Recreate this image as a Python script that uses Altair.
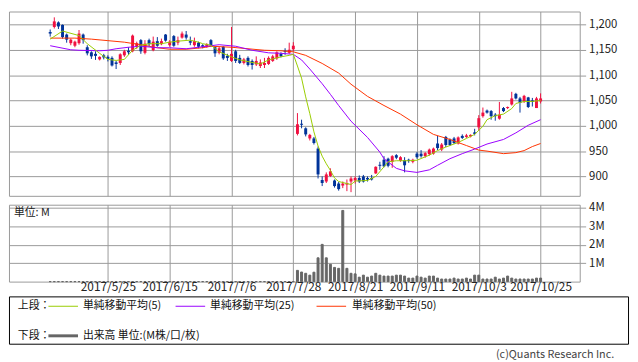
import altair as alt
import pandas as pd

FONT = "Noto Sans CJK JP"

# x-axis ticks (trading-day index -> label)
tick_idx = [14, 29, 44, 59, 74, 89, 104, 119]
tick_labels = ["2017/5/25", "2017/6/15", "2017/7/6", "2017/7/28",
               "2017/8/21", "2017/9/11", "2017/10/3", "2017/10/25"]

# daily candles (index 0 = 2017/5/2 ... 119 = 2017/10/25)
opens = [1185, 1195, 1204, 1199, 1180, 1163, 1158, 1163, 1180, 1155,
         1145, 1142, 1131, 1139, 1136, 1134, 1125, 1124, 1139, 1148,
         1147, 1156, 1169, 1144, 1169, 1149, 1167, 1161, 1180, 1159,
         1177, 1164, 1174, 1180, 1167, 1159, 1164, 1159, 1156, 1169,
         1155, 1144, 1156, 1138, 1128, 1147, 1134, 1124, 1134, 1128,
         1121, 1118, 1120, 1122, 1128, 1133, 1142, 1148, 1144, 1151,
         984, 1004, 995, 975, 975, 955, 893, 890, 901, 892,
         886, 882, 884, 890, 892, 897, 900, 897, 897, 906,
         923, 933, 935, 929, 942, 931, 932, 933, 929, 945,
         945, 940, 944, 945, 965, 953, 978, 973, 975, 965,
         980, 978, 979, 987, 997, 1019, 1030, 1029, 1022, 1014,
         1035, 1035, 1042, 1063, 1054, 1048, 1056, 1050, 1035, 1048]
highs = [1190, 1214, 1206, 1200, 1182, 1172, 1168, 1189, 1182, 1159,
         1147, 1147, 1137, 1142, 1139, 1137, 1128, 1143, 1150, 1155,
         1180, 1166, 1171, 1169, 1172, 1176, 1175, 1172, 1181, 1169,
         1179, 1176, 1186, 1187, 1176, 1174, 1166, 1161, 1163, 1171,
         1156, 1156, 1157, 1142, 1195, 1150, 1140, 1134, 1137, 1131,
         1137, 1131, 1134, 1137, 1140, 1147, 1145, 1153, 1164, 1165,
         1025, 1012, 997, 984, 978, 959, 900, 908, 916, 894,
         889, 890, 894, 900, 900, 902, 903, 900, 903, 920,
         929, 940, 937, 942, 944, 940, 938, 935, 935, 948,
         952, 948, 955, 957, 980, 966, 980, 975, 978, 979,
         983, 984, 983, 994, 1021, 1036, 1032, 1031, 1025, 1047,
         1037, 1038, 1067, 1065, 1057, 1061, 1057, 1055, 1057, 1064]
lows = [1176, 1192, 1191, 1172, 1164, 1159, 1155, 1160, 1162, 1139,
        1132, 1130, 1129, 1131, 1127, 1117, 1112, 1120, 1136, 1140,
        1145, 1152, 1142, 1141, 1157, 1147, 1156, 1159, 1166, 1156,
        1156, 1159, 1172, 1170, 1159, 1156, 1153, 1153, 1154, 1156,
        1136, 1141, 1130, 1128, 1126, 1124, 1122, 1121, 1117, 1111,
        1118, 1114, 1114, 1120, 1126, 1130, 1135, 1140, 1142, 1147,
        981, 995, 979, 971, 963, 896, 881, 887, 899, 878,
        872, 877, 871, 869, 886, 887, 888, 890, 892, 905,
        913, 918, 918, 917, 934, 929, 908, 927, 926, 935,
        937, 937, 941, 943, 952, 950, 958, 960, 964, 963,
        974, 976, 977, 981, 990, 1016, 1024, 1012, 1010, 1012,
        1027, 1033, 1040, 1052, 1026, 1045, 1035, 1038, 1035, 1044]
closes = [1182, 1206, 1196, 1175, 1170, 1170, 1166, 1182, 1169, 1143,
          1137, 1138, 1136, 1135, 1132, 1119, 1122, 1141, 1147, 1145,
          1178, 1163, 1147, 1162, 1161, 1166, 1158, 1167, 1168, 1166,
          1158, 1169, 1182, 1174, 1164, 1167, 1156, 1156, 1161, 1159,
          1143, 1153, 1133, 1134, 1142, 1128, 1124, 1131, 1120, 1120,
          1128, 1125, 1124, 1134, 1137, 1145, 1137, 1146, 1150, 1158,
          1003, 1002, 983, 982, 966, 904, 887, 904, 910, 881,
          875, 886, 887, 896, 897, 890, 890, 894, 894, 919,
          921, 920, 921, 940, 937, 938, 922, 931, 933, 938,
          940, 946, 953, 955, 956, 963, 962, 962, 966, 977,
          976, 981, 982, 984, 1015, 1026, 1026, 1019, 1019, 1022,
          1029, 1037, 1054, 1054, 1045, 1059, 1037, 1047, 1054, 1054]

# volume in millions (no data shown before 2017/7/31)
volume_m = [0.0] * 60 + [
    0.61, 0.52, 0.45, 0.35, 0.51, 1.29, 2.02, 1.29, 0.94, 0.77,
    0.72, 3.86, 0.72, 0.45, 0.42, 0.24, 0.35, 0.24, 0.30, 0.45,
    0.35, 0.30, 0.30, 0.30, 0.35, 0.35, 0.30, 0.19, 0.19, 0.30,
    0.24, 0.19, 0.30, 0.30, 0.19, 0.14, 0.14, 0.14, 0.19, 0.14,
    0.14, 0.19, 0.14, 0.35, 0.35, 0.14, 0.14, 0.14, 0.24, 0.14,
    0.19, 0.30, 0.19, 0.14, 0.14, 0.14, 0.14, 0.14, 0.19, 0.19]

# moving averages
ma5_idx = [0, 3, 7, 9, 12, 14, 16, 18, 20, 22, 24, 27, 29, 31, 34, 36, 37, 39, 41, 44,
           46, 49, 51, 53, 56, 58, 59, 60, 61, 62, 63, 64, 65, 66, 67, 68, 69, 70, 73, 74,
           77, 79, 81, 82, 84, 87, 89, 92, 94, 96, 99, 101, 103, 105, 106, 108, 110, 112,
           113, 115, 117, 119]
ma5_val = [1171, 1187, 1178, 1162, 1143, 1131, 1129, 1131, 1149, 1159, 1162, 1162, 1165,
           1167, 1169, 1165, 1162, 1159, 1146, 1136, 1130, 1125, 1122, 1130, 1136, 1139,
           1141, 1118, 1094, 1057, 1024, 988, 960, 940, 925, 912, 897, 890, 884, 891,
           892, 900, 919, 929, 931, 931, 932, 942, 951, 958, 967, 975, 983, 999, 1012,
           1020, 1023, 1034, 1044, 1048, 1048, 1050]
ma25_idx = [0, 5, 7, 12, 14, 16, 19, 22, 26, 29, 33, 36, 39, 41, 45, 49, 53, 56, 59, 61,
            63, 66, 68, 70, 73, 77, 80, 81, 84, 86, 89, 92, 94, 97, 100, 103, 106, 110,
            113, 116, 119]
ma25_val = [1158, 1150, 1149, 1148, 1149, 1152, 1155, 1157, 1154, 1154, 1152, 1155, 1158,
            1160, 1157, 1149, 1144, 1143, 1141, 1130, 1112, 1083, 1062, 1040, 1009, 977,
            948, 935, 916, 911, 908, 913, 922, 935, 945, 954, 964, 973, 986, 1001, 1012]
ma50_idx = [0, 6, 10, 14, 18, 22, 26, 29, 33, 37, 39, 44, 48, 52, 56, 59, 62, 66, 70, 73,
            77, 81, 85, 89, 93, 97, 101, 104, 106, 110, 113, 115, 117, 119]
ma50_val = [1173, 1173, 1171, 1168, 1165, 1160, 1154, 1151, 1151, 1154, 1157, 1155, 1152,
            1149, 1148, 1146, 1139, 1123, 1104, 1082, 1058, 1040, 1023, 1002, 983, 973,
            961, 952, 950, 945, 947, 951, 959, 965]

legend_names = ["単純移動平均(5)", "単純移動平均(25)", "単純移動平均(50)"]
volume_legend = "出来高 単位:(M株/口/枚)"

UP, DOWN = "#f01040", "#003399"
C5, C25, C50 = "#99cc00", "#9900ff", "#ff3300"
GRID = "#999999"
VOL = "#666666"

W, H_PRICE, H_VOL = 579, 187, 78
X_DOMAIN = [-8.8, 127.3]

idx = list(range(len(opens)))
candles = pd.DataFrame({"idx": idx, "open": opens, "high": highs,
                        "low": lows, "close": closes})
candles["dir"] = ["up" if c > o else "down" for o, c in zip(opens, closes)]

label_expr = " : ".join(f"datum.value == {i} ? '{l}'" for i, l in zip(tick_idx, tick_labels)) + " : ''"

x_scale = alt.Scale(domain=X_DOMAIN, nice=False, zero=False)
x_axis_price = alt.Axis(values=tick_idx, grid=True, gridColor=GRID, labels=False,
                        ticks=False, domain=False, title=None)
y_scale = alt.Scale(domain=[861.7, 1225.5], nice=False, zero=False)
y_axis = alt.Axis(orient="right", values=[900, 950, 1000, 1050, 1100, 1150, 1200],
                  format=",.0f", title=None, grid=True, gridColor=GRID, tickColor=GRID,
                  tickSize=6, domain=False, labelFontSize=11.5, labelColor="#222222",
                  labelPadding=3)
color = alt.Color("dir:N", scale=alt.Scale(domain=["up", "down"], range=[UP, DOWN]),
                  legend=None)

def px(field="idx"):
    return alt.X(f"{field}:Q", scale=x_scale, axis=x_axis_price)

def py(field):
    return alt.Y(f"{field}:Q", scale=y_scale, axis=y_axis)

wicks = alt.Chart(candles).mark_rule(strokeWidth=1).encode(
    x=px(), y=py("low"), y2="high:Q", color=color)
bodies = alt.Chart(candles).mark_bar(size=3).encode(
    x=px(), y=py("open"), y2="close:Q", color=color)

def ma_layer(ix, vals, col):
    df = pd.DataFrame({"idx": ix, "val": vals})
    return alt.Chart(df).mark_line(color=col, strokeWidth=1).encode(x=px(), y=py("val"))

price = alt.layer(
    wicks, bodies,
    ma_layer(ma50_idx, ma50_val, C50),
    ma_layer(ma25_idx, ma25_val, C25),
    ma_layer(ma5_idx, ma5_val, C5),
).properties(width=W, height=H_PRICE)

vol_df = pd.DataFrame({"idx": idx, "vol": volume_m})
vol_bars = alt.Chart(vol_df).mark_bar(size=2, color=VOL, stroke=VOL, strokeWidth=1).encode(
    x=alt.X("idx:Q", scale=x_scale,
            axis=alt.Axis(values=tick_idx, grid=True, gridColor=GRID, labelExpr=label_expr,
                          ticks=False, domain=False, title=None, labelFontSize=12,
                          labelPadding=0, labelColor="#222222", labelOverlap=False)),
    y=alt.Y("vol:Q", scale=alt.Scale(domain=[0, 4.17], nice=False),
            axis=alt.Axis(orient="right", values=[1, 2, 3, 4], labelExpr="datum.value + 'M'",
                          title=None, grid=True, gridColor=GRID, tickColor=GRID, tickSize=6,
                          domain=False, labelFontSize=11.5, labelColor="#222222",
                          labelPadding=3)),
)
one = pd.DataFrame({"t": ["単位: M"]})
unit_text = alt.Chart(one).mark_text(align="left", baseline="middle", fontSize=11,
                                     color="#222222").encode(
    x=alt.value(5), y=alt.value(8), text="t:N")
volume = alt.layer(vol_bars, unit_text).properties(width=W, height=H_VOL)

# legend panel
base = alt.Chart(pd.DataFrame({"a": [0]}))
LW, BOX_TOP, BOX_H = 629, 6, 48
ROW1, ROW2 = BOX_TOP + 10, BOX_TOP + 40

def txt(s, x, y, align="left", size=11, col="#111111"):
    return base.mark_text(text=s, align=align, baseline="middle", fontSize=size,
                          color=col).encode(x=alt.value(x), y=alt.value(y))

def seg(x1, x2, y, col, w=1):
    return base.mark_rule(color=col, strokeWidth=w).encode(
        x=alt.value(x1), x2=alt.value(x2), y=alt.value(y))

box = base.mark_rect(fillOpacity=0, stroke="#000000", strokeWidth=1).encode(
    x=alt.value(0.5), x2=alt.value(LW - 0.5), y=alt.value(BOX_TOP + 0.5),
    y2=alt.value(BOX_TOP + BOX_H + 0.5))

legend = alt.layer(
    box,
    txt("上段：", 9, ROW1),
    seg(40, 70, ROW1, C5), txt(legend_names[0], 75, ROW1),
    seg(169, 199, ROW1, C25), txt(legend_names[1], 204, ROW1),
    seg(312, 342, ROW1, C50), txt(legend_names[2], 348, ROW1),
    txt("下段：", 9, ROW2),
    seg(40, 70, ROW2, VOL, 3), txt(volume_legend, 75, ROW2),
    txt("(c)Quants Research Inc.", 614, BOX_TOP + BOX_H + 11, align="right", col="#444444"),
).properties(width=LW, height=70, view=alt.ViewBackground(stroke="transparent"))

chart = alt.vconcat(price, volume, legend, spacing=9, bounds="flush").properties(
    padding=0
).configure(font=FONT).configure_view(stroke=GRID)

chart.save("out.html", embed_options={"renderer": "svg", "actions": False})
